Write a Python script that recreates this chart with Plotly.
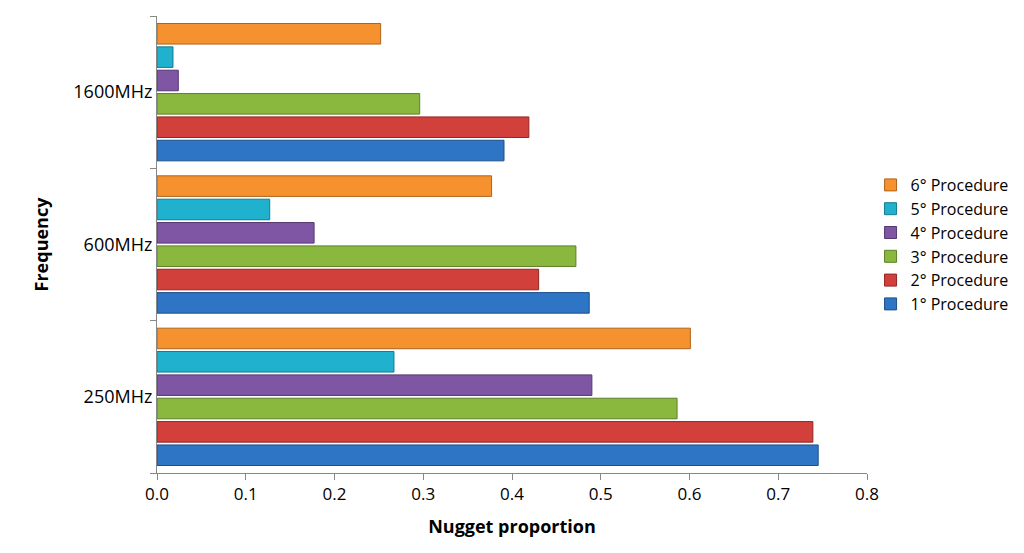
import plotly.graph_objects as go

frequencies = ["250MHz", "600MHz", "1600MHz"]
procedures = ["1° Procedure", "2° Procedure", "3° Procedure",
              "4° Procedure", "5° Procedure", "6° Procedure"]
p1 = [0.745, 0.487, 0.391]
p2 = [0.739, 0.430, 0.419]
p3 = [0.586, 0.472, 0.296]
p4 = [0.490, 0.177, 0.024]
p5 = [0.267, 0.127, 0.018]
p6 = [0.601, 0.377, 0.252]
series = [p1, p2, p3, p4, p5, p6]
colors = ["#2E75C5", "#D2403C", "#8AB83F", "#7E56A4", "#20B1CF", "#F5912F"]
edges = ["#1D4F8A", "#8F2624", "#5D7F27", "#553872", "#157A90", "#B0631A"]

fig = go.Figure()
for name, vals, c, e in zip(procedures, series, colors, edges):
    fig.add_trace(go.Bar(y=frequencies, x=vals, name=name, orientation="h",
                         legendgroup=name,
                         marker=dict(color=c, line=dict(color=e, width=1))))

fig.update_layout(
    barmode="group", bargap=0.08, bargroupgap=0.12,
    width=1024, height=553, plot_bgcolor="white", paper_bgcolor="white",
    margin=dict(l=149, r=165, t=8, b=88),
    font=dict(family="Open Sans, Calibri, sans-serif", size=17, color="black"),
    legend=dict(traceorder="reversed", x=1.005, y=0.5, yanchor="middle",
                font=dict(size=16), itemwidth=30, tracegroupgap=16),
    xaxis=dict(range=[0, 0.8], dtick=0.1, tickformat=".1f", automargin=False,
               showgrid=False, showline=True, linecolor="#888",
               ticks="outside", tickcolor="#888", ticklen=6,
               title=dict(text="<b>Nugget proportion</b>", font=dict(size=18))),
    yaxis=dict(showline=True, linecolor="#888", ticks="outside", automargin=False,
               tickson="boundaries", tickcolor="#888", ticklen=6,
               tickfont=dict(size=18),
               title=dict(text="<b>Frequency</b>", font=dict(size=18), standoff=20)),
)
fig.write_html("out.html")
